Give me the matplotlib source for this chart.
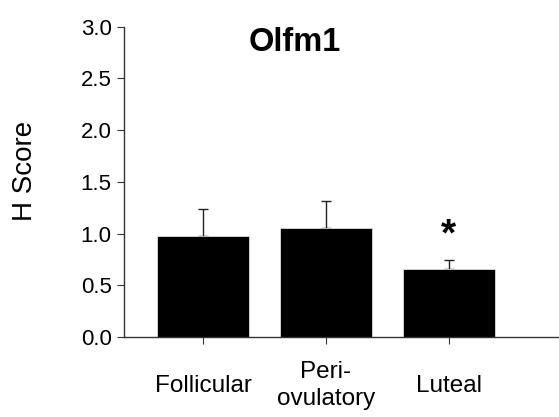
import matplotlib
matplotlib.use("Agg")
import matplotlib.pyplot as plt

# ── Data ──────────────────────────────────────────────────────────────────────
phases = ["Follicular", "Peri-\novulatory", "Luteal"]
h_score = [0.98, 1.05, 0.66]
sem = [0.26, 0.26, 0.085]
signif = ["", "", "*"]

plt.rcParams["font.family"] = ["Liberation Sans", "DejaVu Sans"]

fig = plt.figure(figsize=(5.59, 4.17), dpi=100)
ax = fig.add_axes([0.222, 0.192, 0.778, 0.744])

x = list(range(len(phases)))
ax.bar(x, h_score, width=0.75, color="black", edgecolor="#dddddd", linewidth=0.6, zorder=2)
ax.errorbar(x, h_score, yerr=[[0] * len(sem), sem], fmt="none",
            ecolor="#222222", elinewidth=1, capsize=3.3, capthick=1, zorder=1)
for xi, v, e, s in zip(x, h_score, sem, signif):
    if s:
        ax.text(xi, v + e + 0.24, s, ha="center", va="center", fontsize=28, fontweight="bold")

ax.set_xlim(-0.645, 2.9)
ax.set_ylim(0, 3.0)
ax.set_yticks([0, 0.5, 1.0, 1.5, 2.0, 2.5, 3.0])
ax.set_yticklabels([f"{t:.1f}" for t in ax.get_yticks()], fontsize=16)
ax.set_xticks(x)
ax.set_xticklabels(phases, fontsize=17.5, va="center", linespacing=1.3)
ax.tick_params(axis="x", length=5, pad=30, color="#333333")
ax.tick_params(axis="y", length=5, pad=4, color="#333333")
for side in ["top", "right"]:
    ax.spines[side].set_visible(False)
for side in ["left", "bottom"]:
    ax.spines[side].set_color("#333333")
    ax.spines[side].set_linewidth(1.0)

fig.text(25 / 559, 1 - 171 / 417, "H Score", rotation=90, ha="center", va="center", fontsize=20)
ax.text(0.75, 2.85, "Olfm1", ha="center", va="center", fontsize=23.5, fontweight="bold")

fig.savefig("out.png", dpi=100)
